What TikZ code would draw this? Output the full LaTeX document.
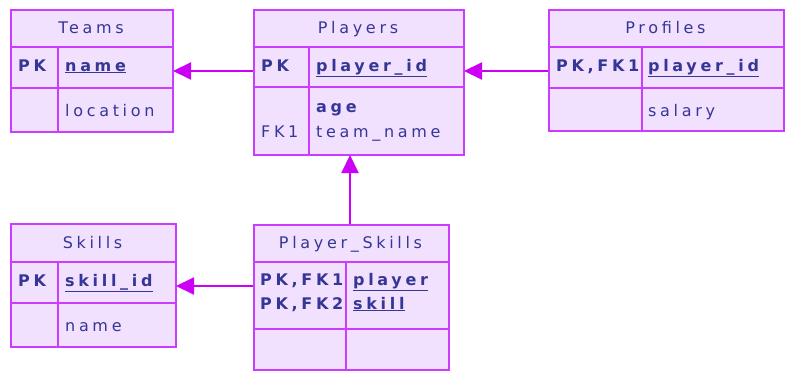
\documentclass[tikz,border=0pt]{standalone}
\usepackage{fontspec}
\usetikzlibrary{arrows.meta}
\newfontfamily\erfont[LetterSpace=23]{DejaVu Sans}
\definecolor{tfill}{HTML}{F1E1FF}
\definecolor{tline}{HTML}{CC3CFF}
\definecolor{arr}{HTML}{CC00F5}
\definecolor{txt}{HTML}{363696}
\tikzset{
  tbl/.style={draw=tline, fill=tfill, line width=1.7pt, rectangle, inner sep=0pt, anchor=north west},
  sep/.style={draw=tline, line width=1.7pt},
  lbl/.style={anchor=base west, inner sep=0pt, text=txt, font=\erfont\fontsize{16}{18}\selectfont},
  hdr/.style={anchor=base, inner sep=0pt, text=txt, font=\erfont\fontsize{16}{18}\selectfont},
  rel/.style={draw=arr, line width=2pt, -{Triangle[length=18pt,width=17pt]}}
}
\newcommand{\ul}[1]{\underline{#1}}
\begin{document}
\begin{tikzpicture}[x=1pt,y=-1pt]
\useasboundingbox (0,0) rectangle (785,375);
% ---------- Teams ----------
\node[tbl, minimum width=162pt, minimum height=122pt] (teams) at (10,9) {};
\draw[sep] (10,47) -- (172,47) (10,88) -- (172,88) (58,47) -- (58,131);
\node[hdr] (teamsH) at (91,33) {Teams};
\node[lbl] (teamsPK) at (18,71) {\bfseries PK};
\node[lbl] (teamsA1) at (65,71) {\bfseries\ul{name}};
\node[lbl] (teamsA2) at (65,116.5) {location};
\coordinate (teamsR1) at (173,71);
% ---------- Players ----------
\node[tbl, minimum width=210pt, minimum height=145pt] (players) at (253,9) {};
\draw[sep] (253,47) -- (463,47) (253,87) -- (463,87) (309,47) -- (309,154);
\node[hdr] (playersH) at (358,33) {Players};
\node[lbl] (playersPK) at (261,71) {\bfseries PK};
\node[lbl] (playersA1) at (316,71) {\bfseries\ul{player\_id}};
\node[lbl] (playersA2) at (316,112) {\bfseries age};
\node[lbl] (playersA3) at (316,137) {team\_name};
\node[lbl] (playersFK) at (261,137) {FK1};
\coordinate (playersR1) at (464,71);
\coordinate (playersL1) at (253,71);
\coordinate (playersB) at (350,155);
% ---------- Profiles ----------
\node[tbl, minimum width=235pt, minimum height=121pt] (profiles) at (548,9) {};
\draw[sep] (548,47) -- (783,47) (548,88) -- (783,88) (642,47) -- (642,130);
\node[hdr] (profilesH) at (665.5,33) {Profiles};
\node[lbl] (profilesPK) at (556,71) {\bfseries PK,FK1};
\node[lbl] (profilesA1) at (648,71) {\bfseries\ul{player\_id}};
\node[lbl] (profilesA2) at (648,116) {salary};
\coordinate (profilesL1) at (548,71);
% ---------- Skills ----------
\node[tbl, minimum width=165pt, minimum height=123pt] (skills) at (10,223) {};
\draw[sep] (10,262) -- (175,262) (10,303) -- (175,303) (58,262) -- (58,346);
\node[hdr] (skillsH) at (92.5,248.3) {Skills};
\node[lbl] (skillsPK) at (18,286) {\bfseries PK};
\node[lbl] (skillsA1) at (65,286) {\bfseries\ul{skill\_id}};
\node[lbl] (skillsA2) at (65,331.5) {name};
\coordinate (skillsR1) at (176,286);
% ---------- Player_Skills ----------
\node[tbl, minimum width=195pt, minimum height=145pt] (ps) at (253,224) {};
\draw[sep] (253,262) -- (448,262) (253,329) -- (448,329) (346,262) -- (346,369);
\node[hdr] (psH) at (350.5,248.3) {Player\_Skills};
\node[lbl] (psPK1) at (260,285) {\bfseries PK,FK1};
\node[lbl] (psPK2) at (260,309) {\bfseries PK,FK2};
\node[lbl] (psA1) at (353,285) {\bfseries\ul{player}};
\node[lbl] (psA2) at (353,309) {\bfseries\ul{skill}};
\coordinate (psL1) at (253,286);
\coordinate (psT) at (350,224);
% ---------- Relationships ----------
\draw[rel] (playersL1) -- (teamsR1);
\draw[rel] (profilesL1) -- (playersR1);
\draw[rel] (psT) -- (playersB);
\draw[rel] (psL1) -- (skillsR1);
\end{tikzpicture}
\end{document}
